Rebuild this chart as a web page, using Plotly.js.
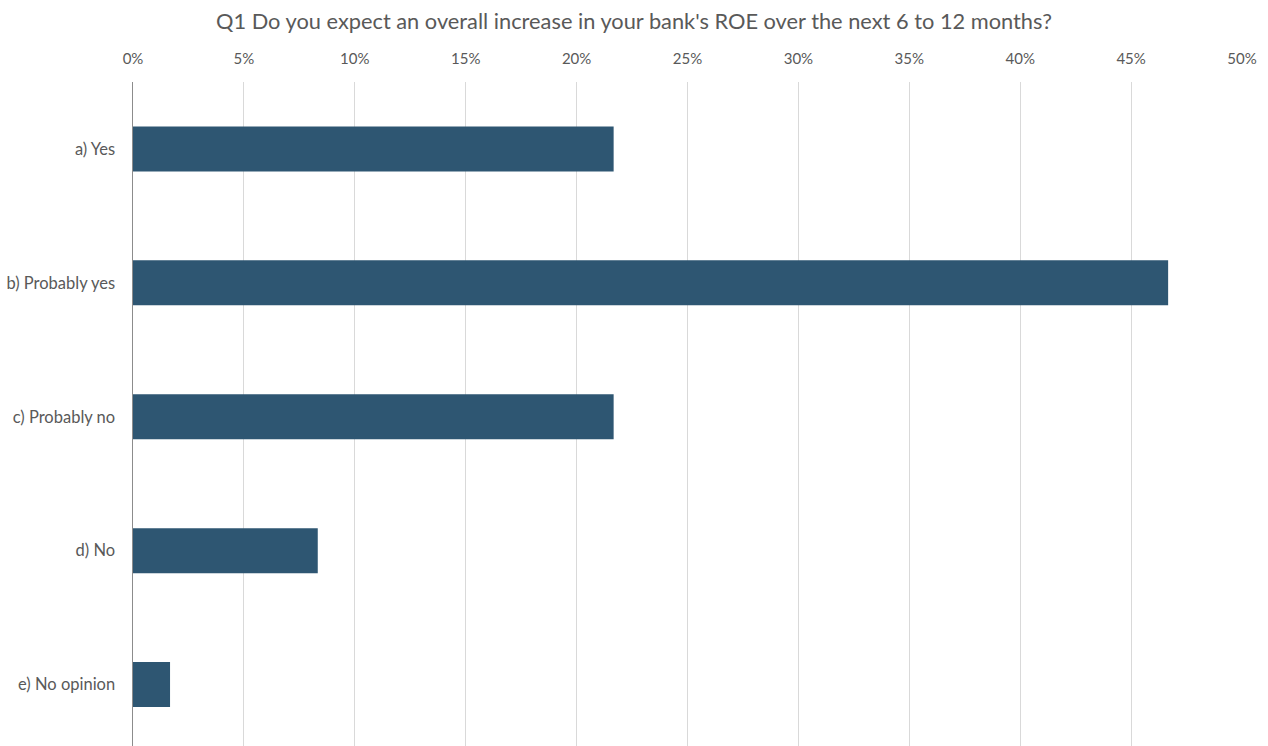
<!DOCTYPE html>
<html>
<head>
<meta charset="utf-8">
<script src="https://cdn.plot.ly/plotly-3.0.1.min.js"></script>
<style>html,body{margin:0;padding:0;background:#fff;}#chart{width:1268px;height:746px;}</style>
</head>
<body>
<div id="chart"></div>
<script>
const categories = ["a) Yes", "b) Probably yes", "c) Probably no", "d) No", "e) No opinion"];
const shares = [0.2167, 0.4667, 0.2167, 0.0833, 0.0167];
const tickValues = [0, 0.05, 0.10, 0.15, 0.20, 0.25, 0.30, 0.35, 0.40, 0.45, 0.50];
const chartTitle = "Q1 Do you expect an overall increase in your bank's ROE over the next 6 to 12 months?";

const trace = {
  type: "bar",
  orientation: "h",
  x: shares,
  y: categories,
  marker: {color: "#2E5672", line: {color: "#2E5672", width: 0}},
  hoverinfo: "x+y"
};

const layout = {
  width: 1268,
  height: 746,
  margin: {l: 133, r: 26, t: 82, b: 0},
  paper_bgcolor: "#ffffff",
  plot_bgcolor: "#ffffff",
  font: {family: "Lato, sans-serif", color: "#595959"},
  title: {
    text: chartTitle,
    font: {family: "Lato, sans-serif", size: 21.8, color: "#595959"},
    x: 0.5, xanchor: "center", y: 0.972, yanchor: "middle"
  },
  bargap: 0.664,
  showlegend: false,
  xaxis: {
    side: "top",
    range: [0, 0.5],
    tickvals: tickValues,
    tickformat: ".0%",
    showgrid: true,
    gridcolor: "#d9d9d9",
    gridwidth: 1,
    zeroline: false,
    showline: false,
    ticks: "",
    ticklen: 0,
    ticklabelstandoff: 14,
    tickfont: {size: 15, color: "#595959"},
    automargin: false
  },
  yaxis: {
    type: "category",
    range: [4.459, -0.5],
    showgrid: false,
    zeroline: false,
    showline: true,
    linecolor: "#8c8c8c",
    linewidth: 1.5,
    ticks: "",
    ticklabelstandoff: 13,
    tickfont: {size: 16.5, color: "#595959"},
    automargin: false
  }
};

Plotly.newPlot("chart", [trace], layout, {displayModeBar: false, staticPlot: true});
</script>
</body>
</html>
